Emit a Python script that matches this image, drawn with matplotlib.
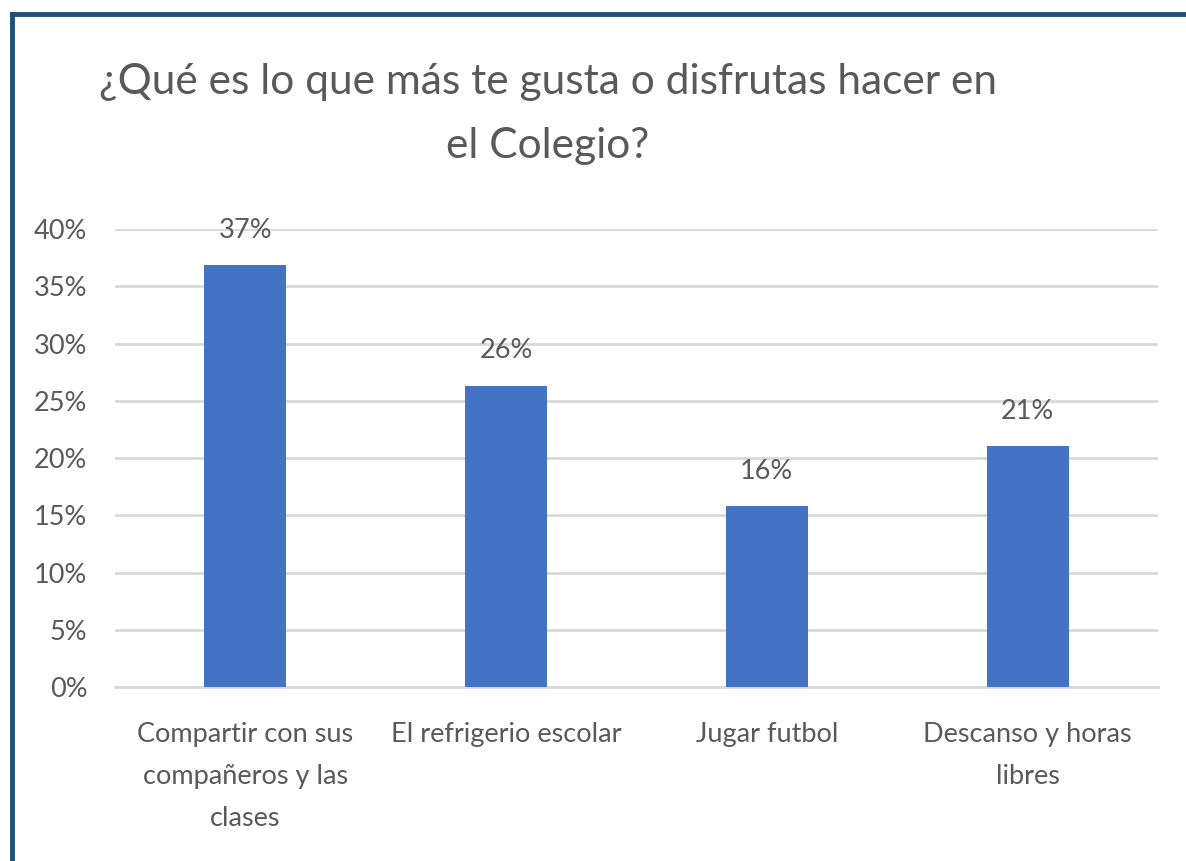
import matplotlib
matplotlib.use("Agg")
import matplotlib.pyplot as plt
from matplotlib.lines import Line2D
import numpy as np

plt.rcParams['font.family'] = ['Lato', 'DejaVu Sans']

# Survey answers (19 students)
categories = ['Compartir con sus\ncompañeros y las\nclases',
              'El refrigerio escolar',
              'Jugar futbol',
              'Descanso y horas\nlibres']
counts = [7, 5, 3, 4]
shares = [c / sum(counts) for c in counts]
yticks = [0, 0.05, 0.10, 0.15, 0.20, 0.25, 0.30, 0.35, 0.40]

text_color = '#595959'
bar_color = '#4472C4'

fig = plt.figure(figsize=(11.86, 8.61), dpi=100)
ax = fig.add_axes([0.097, 0.2021, 0.8794, 0.5319])

x = np.arange(len(categories))
bars = ax.bar(x, shares, width=0.315, color=bar_color, zorder=3)

# Data labels above each bar
for bar, v in zip(bars, shares):
    ax.annotate(f'{v:.0%}', (bar.get_x() + bar.get_width() / 2, v),
                xytext=(0, 16), textcoords='offset points',
                ha='center', va='bottom', fontsize=19.5, color=text_color)

ax.set_xlim(-0.5, len(categories) - 0.5)
ax.set_ylim(0, 0.40)
ax.set_yticks(yticks)
ax.set_yticklabels([f'{t:.0%}' for t in yticks])
ax.set_xticks(x)
ax.set_xticklabels(categories, linespacing=1.85)
ax.tick_params(axis='both', length=0, colors=text_color, labelsize=19.5)
ax.tick_params(axis='x', pad=25)
ax.tick_params(axis='y', pad=20)
ax.yaxis.grid(True, color='#D9D9D9', linewidth=2, zorder=0)
for side in ['top', 'right', 'left']:
    ax.spines[side].set_visible(False)
ax.spines['bottom'].set_color('#D9D9D9')
ax.spines['bottom'].set_linewidth(2)

fig.text(0.4617, 0.868, '¿Qué es lo que más te gusta o disfrutas hacer en\nel Colegio?',
         ha='center', va='center', fontsize=30.6, color=text_color, linespacing=1.84)

# Dark blue frame on top and left edges
fig.add_artist(Line2D([12 / 1186, 1], [1 - 14 / 861, 1 - 14 / 861],
                      color='#1F4E79', linewidth=3.5, transform=fig.transFigure))
fig.add_artist(Line2D([12 / 1186, 12 / 1186], [0, 1 - 14 / 861],
                      color='#1F4E79', linewidth=3.5, transform=fig.transFigure))

fig.savefig('out.png', dpi=100, facecolor='white')
